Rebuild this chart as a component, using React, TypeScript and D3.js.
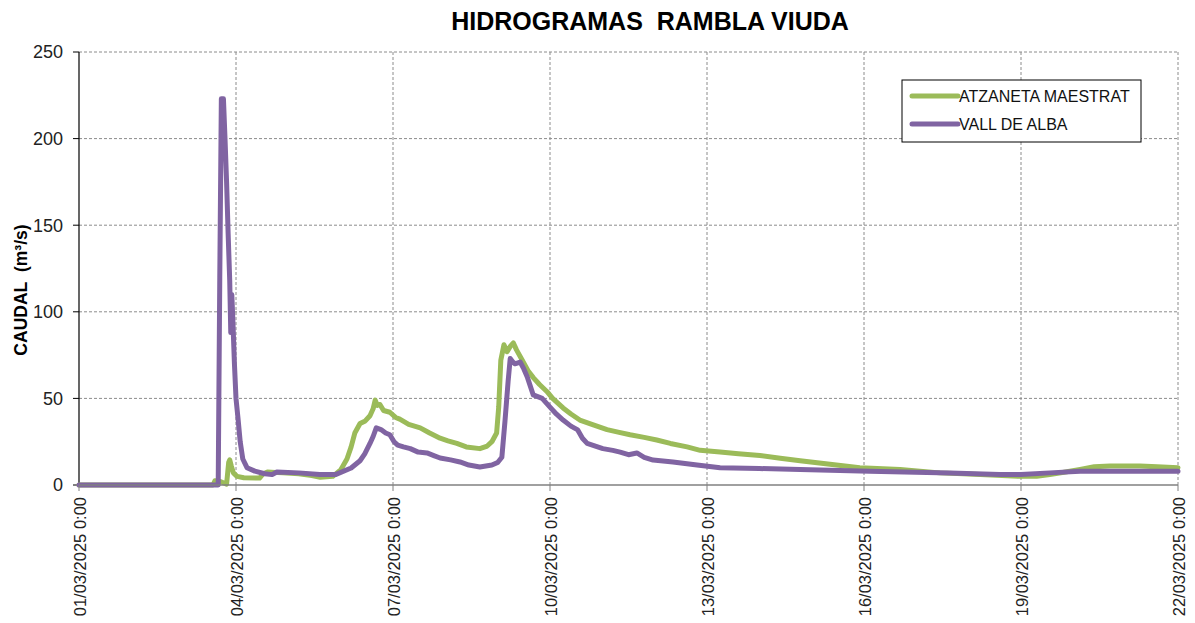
import React from 'react';
import * as d3 from 'd3';

// dias desde 01/03/2025 0:00 y caudal (m3/s)
const atzaneta: [number, number][] = [
  [0, 0], [2.56, 0], [2.6, 2.5], [2.7, 2], [2.78, 1], [2.82, 0.5], [2.86, 13], [2.88, 14.5], [2.91, 11],
  [2.95, 7], [3.02, 5], [3.15, 4.2], [3.45, 4], [3.52, 6.5], [3.6, 7.5], [3.9, 7], [4.2, 6.5],
  [4.45, 5.5], [4.61, 4.5], [4.85, 5], [5.0, 8.7], [5.12, 15], [5.2, 22], [5.27, 30], [5.37, 35.5],
  [5.47, 37], [5.56, 40], [5.62, 44], [5.66, 49], [5.7, 46], [5.75, 46.5], [5.82, 43], [5.94, 42],
  [6.05, 39], [6.13, 38], [6.3, 35], [6.52, 33], [6.7, 30], [6.9, 27], [7.05, 25.5], [7.22, 24],
  [7.4, 22], [7.66, 21], [7.8, 22.5], [7.89, 25], [7.98, 30], [8.02, 45], [8.06, 72], [8.12, 81],
  [8.18, 77], [8.24, 80], [8.3, 82], [8.36, 78], [8.47, 72], [8.58, 66], [8.68, 62], [8.8, 58],
  [8.94, 54], [9.05, 50], [9.25, 44.5], [9.4, 41], [9.57, 37.5], [9.8, 35], [10.09, 32],
  [10.3, 30.5], [10.53, 29], [10.8, 27.5], [11.04, 26], [11.3, 24], [11.62, 22], [11.87, 20],
  [12.25, 19], [12.6, 18], [13.01, 17], [13.4, 15.5], [13.78, 14], [14.35, 12], [14.92, 10],
  [15.69, 9], [16.45, 7], [17.22, 6], [17.98, 5], [18.3, 5], [18.55, 6], [18.85, 7.5],
  [19.13, 9], [19.4, 10.5], [19.7, 11], [20.27, 11], [20.6, 10.5], [21, 10]
];

const vallDeAlba: [number, number][] = [
  [0, 0], [2.66, 0], [2.69, 120], [2.72, 223], [2.76, 223], [2.79, 200], [2.82, 175], [2.85, 145],
  [2.88, 118], [2.9, 88], [2.92, 110], [2.94, 95], [2.97, 70], [3.0, 50], [3.04, 38], [3.08, 25],
  [3.13, 15], [3.21, 10], [3.36, 8], [3.55, 6.5], [3.69, 6], [3.78, 7.5], [4.2, 7], [4.6, 6],
  [4.9, 6], [5.2, 9.8], [5.37, 14], [5.46, 18], [5.56, 24], [5.62, 28], [5.68, 33], [5.77, 32],
  [5.86, 30], [5.94, 29], [6.02, 25], [6.09, 23], [6.2, 22], [6.33, 21], [6.48, 19], [6.65, 18.5],
  [6.78, 17], [6.9, 15.6], [7.1, 14.5], [7.28, 13.3], [7.45, 11.5], [7.66, 10.4], [7.89, 11.5],
  [8.0, 13], [8.08, 16], [8.14, 37], [8.2, 60], [8.24, 73], [8.29, 71], [8.33, 70], [8.43, 71],
  [8.5, 67], [8.57, 62], [8.68, 52], [8.85, 50], [9.0, 45], [9.12, 41], [9.25, 37.5], [9.4, 34],
  [9.53, 31.8], [9.62, 27], [9.71, 24], [10.01, 21], [10.2, 20], [10.34, 19], [10.5, 17.5],
  [10.66, 18.5], [10.8, 16], [10.97, 14.4], [11.35, 13.3], [11.81, 11.5], [12.25, 10],
  [13.0, 9.5], [13.78, 9], [15.11, 8], [16.64, 7], [17.6, 6], [18.0, 6], [18.55, 7],
  [19.13, 8], [20.0, 8], [21, 8]
];

const yTicks = [0, 50, 100, 150, 200, 250];
const xTickDays = [0, 3, 6, 9, 12, 15, 18, 21];

const seriesNames = ['ATZANETA MAESTRAT', 'VALL DE ALBA'];
const seriesColors = ['#9bbb59', '#8064a2'];

const start = new Date(2025, 2, 1);
const toDate = (d: number) => new Date(start.getTime() + d * 864e5);
const fmt = (d: Date) =>
  `${String(d.getDate()).padStart(2, '0')}/${String(d.getMonth() + 1).padStart(2, '0')}/${d.getFullYear()} 0:00`;

const App = () => {
  const width = 1195;
  const height = 623;
  const margin = { top: 52, right: 17, bottom: 138, left: 79 };
  const x = d3.scaleTime()
    .domain([toDate(0), toDate(21)])
    .range([margin.left, width - margin.right]);
  const y = d3.scaleLinear()
    .domain([0, 250])
    .range([height - margin.bottom, margin.top]);

  const line = d3.line<[number, number]>()
    .x(d => x(toDate(d[0])))
    .y(d => y(d[1]))
    .curve(d3.curveLinear);

  const font = 'Arial, "Liberation Sans", sans-serif';
  const x0 = margin.left;
  const x1 = width - margin.right;
  const yBottom = y(0);

  return (
    <svg width={width} height={height} style={{ position: 'absolute', left: 0, top: 0, background: '#fff' }}>
      <text x={650} y={30} textAnchor="middle" fontFamily={font} fontWeight="bold" fontSize={25} fill="#000">
        {'HIDROGRAMAS\u00A0 RAMBLA VIUDA'}
      </text>

      {/* rejilla horizontal */}
      {yTicks.filter(t => t > 0).map(t => (
        <line key={'gy' + t} x1={x0} x2={x1} y1={y(t)} y2={y(t)} stroke="#8c8c8c" strokeDasharray="3,2" strokeWidth={1} />
      ))}
      {/* rejilla vertical */}
      {xTickDays.filter(d => d > 0).map(d => (
        <line key={'gx' + d} x1={x(toDate(d))} x2={x(toDate(d))} y1={y(250)} y2={yBottom} stroke="#8c8c8c" strokeDasharray="3,2" strokeWidth={1} />
      ))}

      {/* eje Y */}
      <line x1={x0} x2={x0} y1={y(250)} y2={yBottom} stroke="#000" strokeWidth={1.2} />
      {yTicks.map(t => (
        <g key={'yt' + t}>
          <line x1={x0 - 6} x2={x0} y1={y(t)} y2={y(t)} stroke="#000" />
          <text x={x0 - 16} y={y(t)} dy="0.35em" textAnchor="end" fontFamily={font} fontSize={18} fill="#222">{t}</text>
        </g>
      ))}
      <text transform={`translate(27,290) rotate(-90)`} textAnchor="middle" fontFamily={font} fontWeight="bold" fontSize={17.5} fill="#000">
        {'CAUDAL\u00A0 (m³/s)'}
      </text>

      {/* series */}
      {[atzaneta, vallDeAlba].map((s, i) => (
        <path key={'s' + i} d={line(s) || ''} fill="none" stroke={seriesColors[i]} strokeWidth={5} strokeLinejoin="round" strokeLinecap="round" />
      ))}

      {/* eje X */}
      <line x1={x0} x2={x1} y1={yBottom} y2={yBottom} stroke="#808080" strokeWidth={1.5} />
      {xTickDays.map(d => (
        <g key={'xt' + d}>
          <line x1={x(toDate(d))} x2={x(toDate(d))} y1={yBottom} y2={yBottom + 6} stroke="#808080" />
          <text transform={`translate(${x(toDate(d)) + 7},${yBottom + 12}) rotate(-90)`} textAnchor="end" fontFamily={font} fontSize={16.5} fill="#222">
            {fmt(toDate(d))}
          </text>
        </g>
      ))}

      {/* leyenda */}
      <rect x={902} y={80} width={239} height={62} fill="#fff" stroke="#000" strokeWidth={1} />
      {seriesNames.map((n, i) => (
        <g key={'lg' + i}>
          <line x1={912} x2={958} y1={96 + i * 28} y2={96 + i * 28} stroke={seriesColors[i]} strokeWidth={5} strokeLinecap="round" />
          <text x={959} y={96 + i * 28} dy="0.36em" fontFamily={font} fontSize={16} fill="#111">{n}</text>
        </g>
      ))}
    </svg>
  );
};

export default App;
